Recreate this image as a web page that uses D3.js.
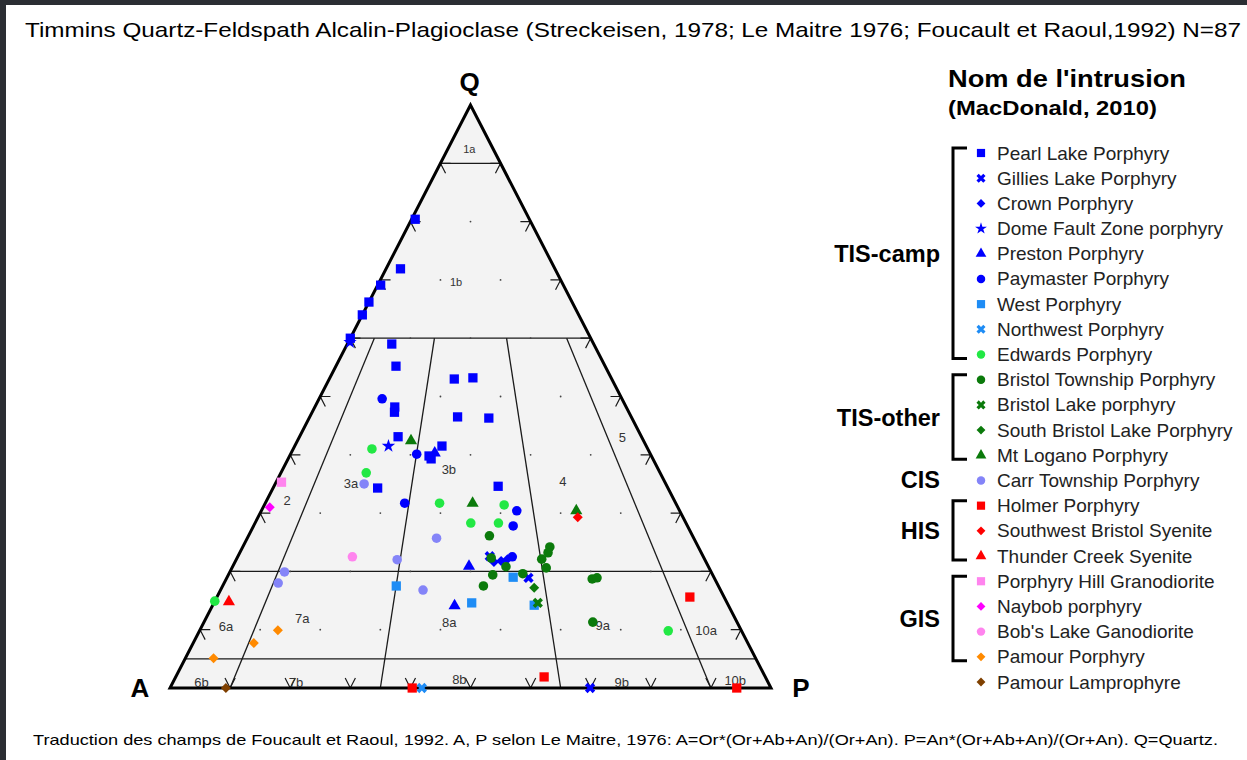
<!doctype html>
<html lang="fr">
	<head>
		<meta charset="utf-8">
		<title>Timmins QAP</title>
		<style type="text/css">
			body {
				margin: 0;
				background-color: white;
				font-family: "Liberation Sans", Arial, Helvetica, sans-serif;
			}
			svg {
				display: block;
				background-color: white;
			}
			.field line {
				stroke: #1a1a1a;
				stroke-width: 1.3px;
			}
			.tick path {
				fill: none;
				stroke: #1a1a1a;
				stroke-width: 1.2px;
			}
			.fieldlabel {
				fill: #333;
				text-anchor: middle;
			}
			.apex {
				font-size: 26px;
				font-weight: bold;
				text-anchor: middle;
			}
			.legend text.item {
				font-size: 19px;
				fill: #222;
			}
			.legend text.group {
				font-size: 23.5px;
				font-weight: bold;
				text-anchor: end;
			}
			.bracket {
				fill: none;
				stroke: black;
				stroke-width: 3px;
			}
		</style>
	</head>
	<body>
		<script type="text/javascript" src="https://cdnjs.cloudflare.com/ajax/libs/d3/7.8.5/d3.min.js"></script>
		<script type="text/javascript">
			// valeurs en % : [Q, P]  (A = 100 - Q - P)
			var pearlLake = [[80.4,0.6],[71.9,2.4],[69.1,0.5],[66.2,0],[64.0,0],[60.0,0],[59.0,7.4],[55.2,10.0],
				[48.2,13.3],[47.3,13.7],[43.1,16.4],[53.0,20.8],[53.2,23.8],[46.5,24.6],[46.3,29.9],[41.5,24.5],
				[39.8,23.2],[39.3,23.8],[34.3,17.4],[34.6,37.3]];
			var gilliesLake = [[18.9,50.2],[0,69.9],[22.6,41.9]];
			var crown = [[21.6,43.1],[21.8,44.2],[22.1,45.1]];
			var domeFault = [[41.5,15.6],[59.3,0.3]];
			var preston = [[40.3,23.9],[20.9,39.3],[14.1,40.3]];
			var paymaster = [[49.6,10.5],[40.1,21.0],[31.7,23.2],[30.4,42.5],[27.8,43.2],[22.5,45.7]];
			var west = [[19.0,47.6],[14.6,42.9],[14.2,53.5],[17.5,28.9]];
			var northwest = [[0,41.9]];
			var edwards = [[41.0,13.1],[36.9,14.2],[31.7,29.0],[31.4,39.9],[28.3,35.9],[28.3,40.5],[14.9,0],[9.8,78.0]];
			var bristolTownship = [[26.1,40.1],[22.3,42.3],[20.8,45.5],[19.4,44.0],[19.6,48.9],[17.5,43.4],[22.1,50.8],
				[20.6,52.3],[24.2,51.1],[23.2,51.3],[18.7,60.9],[18.9,61.6],[11.3,64.7]];
			var bristolLake = [[14.6,53.9]];
			var southBristol = [[17.2,52.0]];
			var mtLogano = [[42.4,18.9],[31.7,34.5],[30.4,52.4]];
			var carrTownship = [[35.0,14.8],[25.7,31.5],[19.9,9.1],[18.0,9.0],[22.0,26.8],[16.8,33.7]];
			var holmer = [[15.6,78.7],[1.9,61.3],[0,94.3],[0,40.3]];
			var swBristol = [[29.3,53.2]];
			var thunderCreek = [[14.8,2.4]];
			var porphyryHill = [[35.3,0.9]];
			var naybob = [[31.0,1.1]];
			var bobsLake = [[22.5,19.1]];
			var pamourPorphyry = [[9.9,13.0],[7.7,10.1],[5.1,4.7]];
			var pamourLamprophyre = [[0,9.3]];

			var seriesNames = ["Pearl Lake Porphyry", "Gillies Lake Porphyry", "Crown Porphyry", "Dome Fault Zone porphyry",
				"Preston Porphyry", "Paymaster Porphyry", "West Porphyry", "Northwest Porphyry", "Edwards Porphyry",
				"Bristol Township Porphyry", "Bristol Lake porphyry", "South Bristol Lake Porphyry", "Mt Logano Porphyry",
				"Carr Township Porphyry", "Holmer Porphyry", "Southwest Bristol Syenite", "Thunder Creek Syenite",
				"Porphyry Hill Granodiorite", "Naybob porphyry", "Bob's Lake Ganodiorite", "Pamour Porphyry", "Pamour Lamprophyre"];
			var seriesValues = [pearlLake, gilliesLake, crown, domeFault, preston, paymaster, west, northwest, edwards,
				bristolTownship, bristolLake, southBristol, mtLogano, carrTownship, holmer, swBristol, thunderCreek,
				porphyryHill, naybob, bobsLake, pamourPorphyry, pamourLamprophyre];

			// groupes du legende : [nom, premier, dernier]
			var groupNames = ["TIS-camp", "TIS-other", "CIS", "HIS", "GIS"];
			var groupFirst = [0, 9, 13, 14, 17];
			var groupLast = [8, 12, 13, 16, 20];

			// champs (Foucault et Raoul, 1992)
			var horizontalQ = [90, 60, 20, 5];
			var plagioRatio = [10, 35, 65, 90];
			var fieldNames = ["1a","1b","2","3a","3b","4","5","6a","7a","8a","9a","10a","6b","7b","8b","9b","10b"];
			var fieldQ = [92.6, 69.8, 32.2, 35.0, 37.4, 35.5, 42.9, 10.6, 12.0, 11.3, 10.8, 9.8, 0.9, 0.9, 1.5, 0.9, 1.3];
			var fieldP = [3.5, 12.7, 3.4, 12.6, 27.7, 47.6, 53.8, 4.0, 16.0, 40.8, 66.6, 84.3, 4.8, 20.5, 47.4, 74.7, 93.4];
			var tickSteps = [10, 20, 30, 40, 50, 60, 70, 80, 90];

			var shapeOf = ["square","cross","diamond","star","triangle","circle","square","cross","circle",
				"circle","cross","diamond","triangle","circle","square","diamond","triangle",
				"square","diamond","circle","diamond","diamond"];
			var colorOf = ["#0000ff","#0000ff","#0000ff","#0000ff","#0000ff","#0000ff","#1e8cf5","#1e8cf5","#22e844",
				"#0b7a0b","#0b7a0b","#0b7a0b","#0b7a0b","#8484f8","#ff0000","#ff0000","#ff0000",
				"#ff84ee","#ff00ff","#ff84ee","#ff8a00","#7f4000"];

			var fullwidth = 1247;
			var fullheight = 760;

			// X = P + Q/2 le long de la base A-P
			var xScale = d3.scaleLinear().domain([0, 100]).range([170, 771]);
			var yScale = d3.scaleLinear().domain([0, 100]).range([688, 105]);
			function tern(q, p) {
				return [xScale(p + q / 2), yScale(q)];
			}

			var svg = d3.select("body")
						.append("svg")
						.attr("width", fullwidth)
						.attr("height", fullheight);

			// cadre sombre
			svg.append("rect").attr("x", 0).attr("y", 0).attr("width", fullwidth).attr("height", 5).attr("fill", "#2b2e33");
			svg.append("rect").attr("x", 0).attr("y", 0).attr("width", 6).attr("height", fullheight).attr("fill", "#2b2e33");

			svg.append("text")
				.attr("x", 25)
				.attr("y", 37)
				.attr("font-size", 21)
				.attr("textLength", 1216)
				.attr("lengthAdjust", "spacingAndGlyphs")
				.text("Timmins Quartz-Feldspath Alcalin-Plagioclase (Streckeisen, 1978; Le Maitre 1976; Foucault et Raoul,1992) N=87");

			svg.append("text")
				.attr("x", 33)
				.attr("y", 745)
				.attr("font-size", 15)
				.attr("textLength", 1185)
				.attr("lengthAdjust", "spacingAndGlyphs")
				.text("Traduction des champs de Foucault et Raoul, 1992. A, P selon Le Maitre, 1976: A=Or*(Or+Ab+An)/(Or+An). P=An*(Or+Ab+An)/(Or+An). Q=Quartz.");

			var line = d3.line();
			var corners = [tern(100, 0), tern(0, 0), tern(0, 100)];

			svg.append("path")
				.attr("d", line(corners) + "Z")
				.attr("fill", "#f3f3f3");

			// lignes des champs
			var field = svg.append("g").attr("class", "field");
			field.selectAll("line.h")
				.data(horizontalQ)
				.enter()
				.append("line")
				.attr("x1", function(q) { return tern(q, 0)[0]; })
				.attr("y1", function(q) { return tern(q, 0)[1]; })
				.attr("x2", function(q) { return tern(q, 100 - q)[0]; })
				.attr("y2", function(q) { return tern(q, 100 - q)[1]; });
			field.selectAll("line.r")
				.data(plagioRatio)
				.enter()
				.append("line")
				.attr("x1", function(r) { return tern(60, r * 0.4)[0]; })
				.attr("y1", function(r) { return tern(60, r * 0.4)[1]; })
				.attr("x2", function(r) { return tern(0, r)[0]; })
				.attr("y2", function(r) { return tern(0, r)[1]; });

			// points de grille 10 %
			var grid = [];
			tickSteps.forEach(function(q) {
				tickSteps.forEach(function(p) {
					if (100 - q - p >= 10) grid.push([q, p]);
				});
			});
			svg.selectAll("circle.grid")
				.data(grid)
				.enter()
				.append("circle")
				.attr("cx", function(d) { return tern(d[0], d[1])[0]; })
				.attr("cy", function(d) { return tern(d[0], d[1])[1]; })
				.attr("r", 0.9)
				.attr("fill", "#444");

			// chevrons sur les cotes
			var dl = 1.7;
			var ticks = svg.append("g").attr("class", "tick");
			tickSteps.forEach(function(s) {
				// base (Q = 0, P = s)
				ticks.append("path").attr("d", line([tern(dl, s - dl), tern(0, s), tern(dl, s)]));
				// cote gauche (P = 0, Q = s)
				ticks.append("path").attr("d", line([tern(s, dl), tern(s, 0), tern(s - dl, dl)]));
				// cote droit (A = 0, Q = s)
				ticks.append("path").attr("d", line([tern(s, 100 - s - dl), tern(s, 100 - s), tern(s - dl, 100 - s)]));
			});

			svg.append("path")
				.attr("d", line(corners) + "Z")
				.attr("fill", "none")
				.attr("stroke", "black")
				.attr("stroke-width", 3)
				.attr("stroke-linejoin", "miter");

			svg.selectAll("text.fieldlabel")
				.data(fieldNames)
				.enter()
				.append("text")
				.attr("class", "fieldlabel")
				.attr("x", function(d, i) { return tern(fieldQ[i], fieldP[i])[0]; })
				.attr("y", function(d, i) { return tern(fieldQ[i], fieldP[i])[1] + 4.5; })
				.attr("font-size", function(d, i) { return i < 2 ? 11 : 13; })
				.text(function(d) { return d; });

			svg.append("text").attr("class", "apex").attr("x", tern(100, 0)[0] - 1).attr("y", 91).text("Q");
			svg.append("text").attr("class", "apex").attr("x", 140).attr("y", 697).text("A");
			svg.append("text").attr("class", "apex").attr("x", 801).attr("y", 697).text("P");

			// symboles
			var symbolType = {
				square: d3.symbolSquare, cross: d3.symbolCross, diamond: d3.symbolSquare,
				star: d3.symbolStar, triangle: d3.symbolTriangle, circle: d3.symbolCircle
			};
			var symbolSize = { square: 86, cross: 66, diamond: 50, star: 56, triangle: 64, circle: 72 };
			function symbolPath(shape, k) {
				return d3.symbol().type(symbolType[shape]).size(symbolSize[shape] * k)();
			}
			function rot(shape) {
				return (shape === "cross" || shape === "diamond") ? " rotate(45)" : "";
			}

			var groups = svg.selectAll("g.series")
				.data(seriesValues)
				.enter()
				.append("g")
				.attr("class", "series");
			groups.each(function(values, i) {
				d3.select(this).selectAll("path")
					.data(values)
					.enter()
					.append("path")
					.attr("d", symbolPath(shapeOf[i], 1))
					.attr("fill", colorOf[i])
					.attr("transform", function(d) {
						var pt = tern(d[0], d[1]);
						return "translate(" + pt[0] + "," + pt[1] + ")" + rot(shapeOf[i]);
					});
			});

			// legende
			var legendY = d3.scaleLinear().domain([0, seriesNames.length - 1]).range([153, 682]);
			var legend = svg.append("g").attr("class", "legend");

			legend.append("text")
				.attr("x", 948).attr("y", 87)
				.attr("font-size", 24).attr("font-weight", "bold")
				.attr("textLength", 238).attr("lengthAdjust", "spacingAndGlyphs")
				.text("Nom de l'intrusion");
			legend.append("text")
				.attr("x", 948).attr("y", 115)
				.attr("font-size", 20).attr("font-weight", "bold")
				.attr("textLength", 209).attr("lengthAdjust", "spacingAndGlyphs")
				.text("(MacDonald, 2010)");

			var items = legend.selectAll("g.item")
				.data(seriesNames)
				.enter()
				.append("g")
				.attr("transform", function(d, i) { return "translate(0," + legendY(i) + ")"; });
			items.append("path")
				.attr("d", function(d, i) { return symbolPath(shapeOf[i], 0.78); })
				.attr("fill", function(d, i) { return colorOf[i]; })
				.attr("transform", function(d, i) { return "translate(981,0)" + rot(shapeOf[i]); });
			items.append("text")
				.attr("class", "item")
				.attr("x", 997)
				.attr("y", 6.5)
				.text(function(d) { return d; });

			groupNames.forEach(function(g, i) {
				var y0 = legendY(groupFirst[i]);
				var y1 = legendY(groupLast[i]);
				legend.append("text")
					.attr("class", "group")
					.attr("x", 940)
					.attr("y", (y0 + y1) / 2 + 8)
					.text(g);
				if (groupLast[i] > groupFirst[i]) {
					legend.append("path")
						.attr("class", "bracket")
						.attr("d", line([[967, y0 - 5], [953, y0 - 5], [953, y1 + 4], [967, y1 + 4]]));
				}
			});
		</script>
	</body>
</html>
